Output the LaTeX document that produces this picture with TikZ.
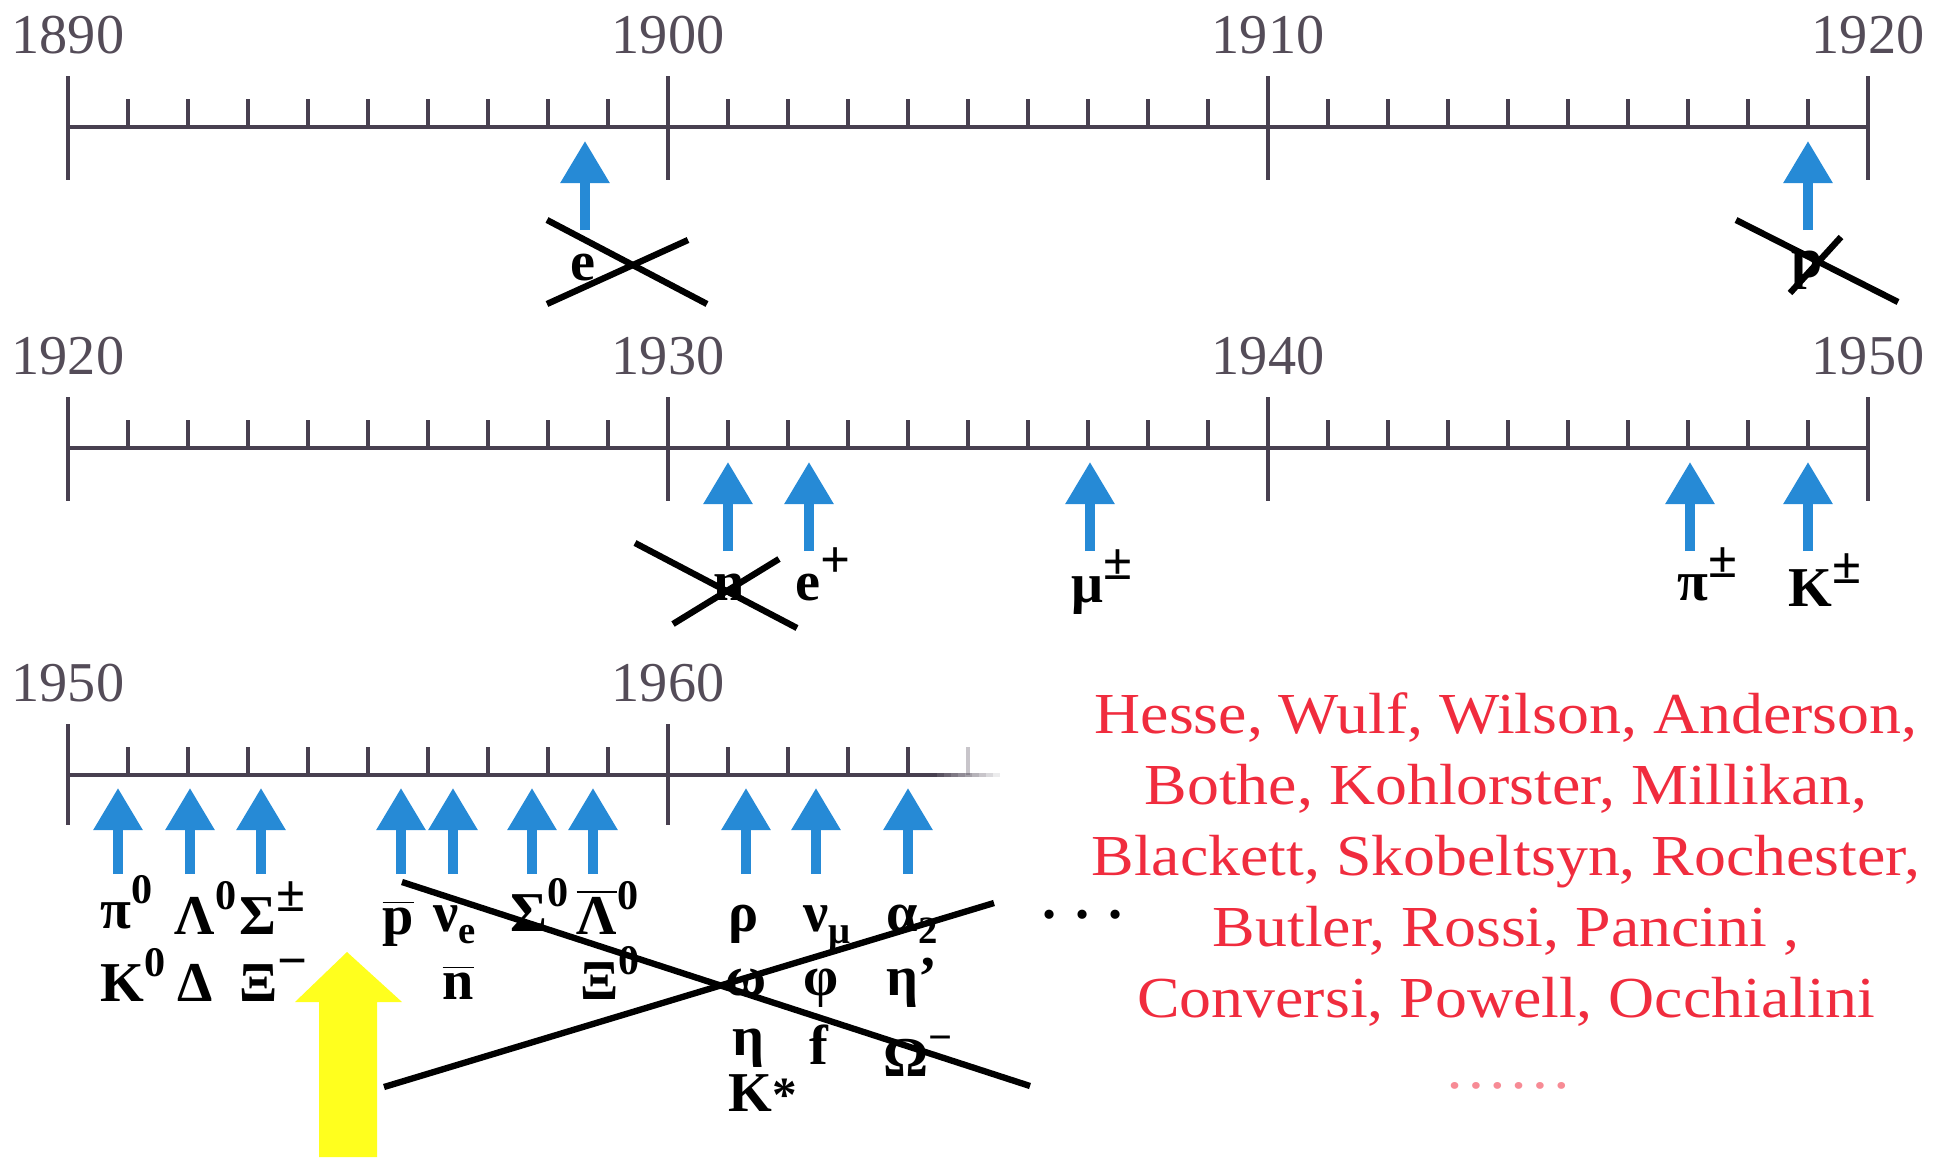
\documentclass[tikz,border=0pt]{standalone}
\usepackage{fontspec}
\setmainfont{Liberation Serif}
\usetikzlibrary{arrows.meta,positioning}
\definecolor{axisgray}{RGB}{72,64,80}
\definecolor{yeargray}{RGB}{84,76,88}
\definecolor{findblue}{RGB}{38,138,214}
\definecolor{namered}{RGB}{240,44,62}
\definecolor{markyellow}{RGB}{255,255,30}
\newcommand\hi[1]{\raisebox{0.44em}{\fontsize{12pt}{12pt}\selectfont #1}}
\newcommand\hipm[1]{\raisebox{0.4em}{\fontsize{15pt}{15pt}\selectfont #1}}
\newcommand\lo[1]{\raisebox{-0.22em}{\fontsize{11pt}{11pt}\selectfont #1}}
\newcommand\barred[1]{$\overline{\hbox{#1}}$}
\begin{document}
\begin{tikzpicture}[
		x=0.01cm, y=-0.01cm,
		axis/.style={draw=axisgray, line width=1.2pt},
		yearlabel/.style={font=\fontsize{16pt}{16pt}\selectfont, text=yeargray, anchor=base, inner sep=0pt},
		particle/.style={font=\fontsize{16pt}{16pt}\selectfont\bfseries, anchor=base west, inner sep=0pt},
		find/.style={draw=findblue, line width=2.6pt, -{Triangle[width=0.47cm,length=0.42cm]}},
		strike/.style={draw=black, line width=1.8pt},
		names/.style={font=\fontsize{16.5pt}{16.5pt}\selectfont, text=namered, anchor=base, inner sep=0pt, xscale=1.1}
		]
		\useasboundingbox (0,0) rectangle (1951,1157);
		
		% Zeitachsen 1890-1950
		\foreach \row/\ay/\first in {1/127/1890, 2/448/1920} {
			\draw[axis] (68,\ay) -- (1868,\ay);
			\foreach \m in {1,...,29}
				\draw[axis, line width=1pt] (68+60*\m,\ay-28) -- (68+60*\m,\ay);
			\foreach \k in {0,...,3} {
				\draw[axis, line width=1pt] (68+600*\k,\ay-51) -- (68+600*\k,\ay+53);
				\pgfmathtruncatemacro\yr{\first+10*\k}
				\node[yearlabel] (year\yr-\row) at (68+600*\k,\ay-74) {\yr};
			}
		}
		
		% Zeitachse ab 1950, rechts auslaufend
		\draw[axis] (68,775) -- (930,775);
		\foreach \i [evaluate=\i as \op using 1-\i/10] in {0,...,9}
			\draw[axis, draw opacity=\op] (930+7*\i,775) -- (937+7*\i,775);
		\foreach \m in {1,...,14}
			\draw[axis, line width=1pt] (68+60*\m,747) -- (68+60*\m,775);
		\draw[axis, line width=1pt, draw opacity=0.3] (968,747) -- (968,775);
		\foreach \k/\yr in {0/1950, 1/1960} {
			\draw[axis, line width=1pt] (68+600*\k,724) -- (68+600*\k,825);
			\node[yearlabel] (year\yr-3) at (68+600*\k,701) {\yr};
		}
		
		% Entdeckungen
		\foreach \x [count=\i] in {585,1808} {
			\coordinate (tipA\i) at (\x,141);
			\coordinate (footA\i) at (\x,230);
			\draw[find] (footA\i) -- (tipA\i);
		}
		\foreach \x [count=\i] in {728,809,1090,1690,1808} {
			\coordinate (tipB\i) at (\x,462);
			\coordinate (footB\i) at (\x,551);
			\draw[find] (footB\i) -- (tipB\i);
		}
		\foreach \x [count=\i] in {118,190,261,401,453,532,593,746,816,908} {
			\coordinate (tipC\i) at (\x,788);
			\coordinate (footC\i) at (\x,874);
			\draw[find] (footC\i) -- (tipC\i);
		}
		
		% Teilchen
		\node[particle, anchor=base] (eminus) at (583,280) {e};
		\node[particle, anchor=base] (proton) at (1807,277) {p};
		\node[particle, anchor=base] (neutron) at (729,600) {n};
		\node[particle] (positron) at (795,600) {e\hipm{+}};
		\node[particle] (muon) at (1071,602) {μ\hipm{±}};
		\node[particle] (pion) at (1677,600) {π\hipm{±}};
		\node[particle] (kaon) at (1788,606) {K\hipm{±}};
		
		\node[particle] (pizero) at (100,928) {π\hi{0}};
		\node[particle] (lambda) at (174,934) {Λ\hi{0}};
		\node[particle] (sigmapm) at (239,934) {Σ\hipm{±}};
		\node[particle] (pbar) at (382,934) {\barred{p}};
		\node[particle] (nue) at (433,931) {ν\lo{e}};
		\node[particle] (sigmazero) at (510,931) {Σ\hi{0}};
		\node[particle] (lambdabar) at (576,934) {\barred{Λ}\hi{0}};
		\node[particle] (rho) at (728,931) {ρ};
		\node[particle] (numu) at (803,931) {ν\lo{μ}};
		\node[particle] (atwo) at (886,931) {α\lo{2}};
		
		\node[particle] (kzero) at (100,1001) {K\hi{0}};
		\node[particle] (delta) at (177,1001) {Δ};
		\node[particle] (ximinus) at (239,1001) {Ξ\hipm{−}};
		\node[particle] (nbar) at (442,999) {\barred{n}};
		\node[particle] (xizero) at (580,999) {Ξ\hi{0}};
		\node[particle] (omega) at (725,995) {ω};
		\node[particle] (phi) at (803,995) {φ};
		\node[particle] (etaprime) at (886,995) {η'};
		
		\node[particle] (eta) at (732,1055) {η};
		\node[particle] (fmeson) at (809,1064) {f};
		\node[particle] (omegaminus) at (883,1076) {Ω\hi{−}};
		\node[particle] (kstar) at (728,1111) {K{\fontsize{14pt}{14pt}\selectfont*}};
		\node[particle, anchor=base west] (more) at (1042,918) {. . .};
		
		% gestrichen
		\draw[strike] (547,220) -- (707,304);
		\draw[strike] (547,304) -- (688,240);
		\draw[strike] (1736,220) -- (1898,302);
		\draw[strike] (1841,237) -- (1790,293);
		\draw[strike] (635,543) -- (797,628);
		\draw[strike] (673,624) -- (779,559);
		\draw[strike] (402,882) -- (1030,1086);
		\draw[strike] (384,1087) -- (994,903);
		
		% grosser Pfeil
		\fill[markyellow] (319,1157) -- (319,1002) -- (295,1002) -- (347,952)
			-- (402,1002) -- (377,1002) -- (377,1157) -- cycle;
		
		% Namen
		\node[names] (names1) at (1506,733) {Hesse, Wulf, Wilson, Anderson,};
		\node[names] (names2) at (1506,804) {Bothe, Kohlorster, Millikan,};
		\node[names] (names3) at (1506,875) {Blackett, Skobeltsyn, Rochester,};
		\node[names] (names4) at (1506,946) {Butler, Rossi, Pancini ,};
		\node[names] (names5) at (1506,1017) {Conversi, Powell, Occhialini};
		\node[names, text=namered!55] (names6) at (1508,1088) {……};
		
	\end{tikzpicture}
\end{document}
